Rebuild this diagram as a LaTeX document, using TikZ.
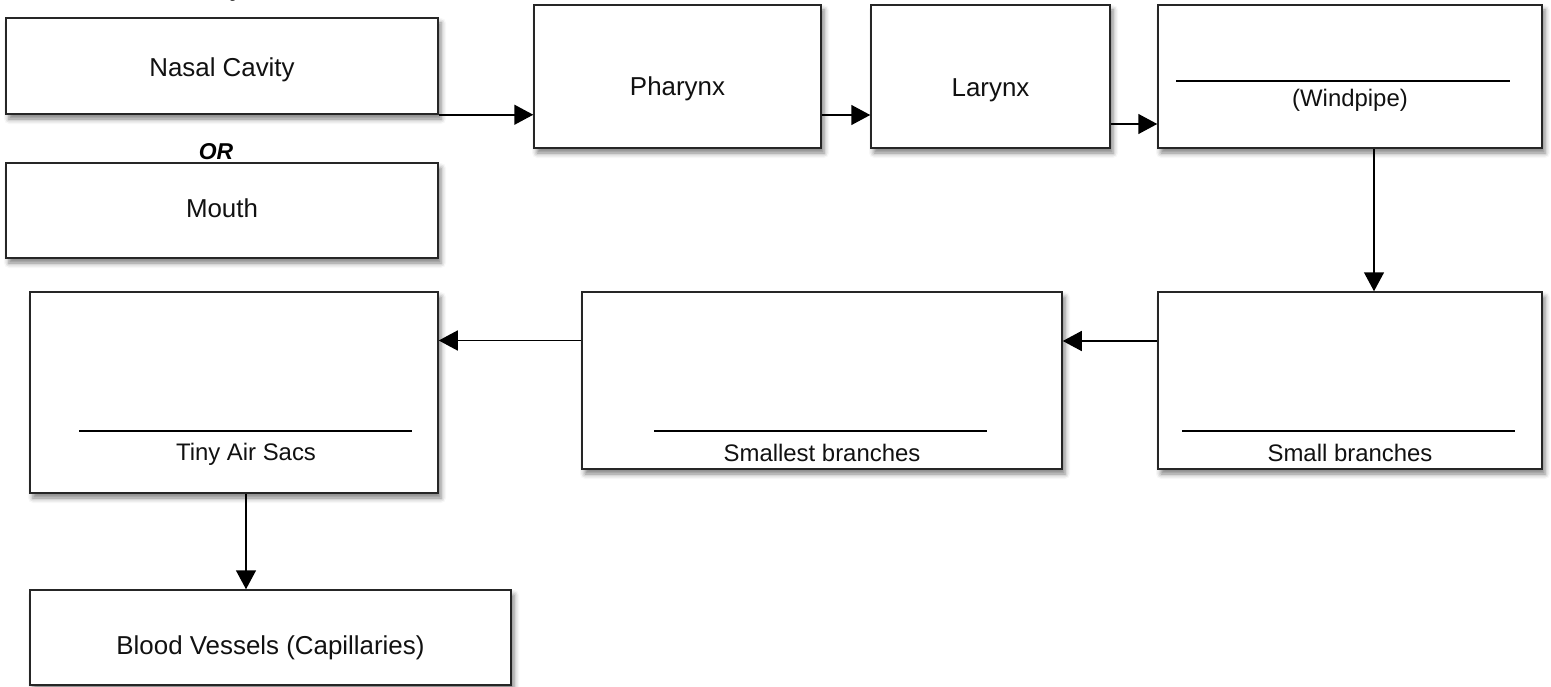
\documentclass[tikz,border=0pt]{standalone}
\usepackage{fontspec}
\setmainfont{Liberation Sans}
\usetikzlibrary{arrows.meta}
\usetikzlibrary{shadows.blur}
\definecolor{boxLineColor}{HTML}{262626}
\definecolor{boxFillColor}{HTML}{FFFFFF}
\definecolor{arrowColor}{HTML}{000000}
\definecolor{blankColor}{HTML}{000000}
\definecolor{textColor}{HTML}{111111}

\tikzset{
  organBox/.style={draw=boxLineColor, line width=1.5bp, fill=boxFillColor, inner sep=0pt,
    blur shadow={shadow xshift=3bp, shadow yshift=-5bp, shadow blur radius=5bp, shadow opacity=50}},
  organText/.style={font=\fontsize{26}{30}\selectfont, text=textColor, inner sep=0pt},
  blankText/.style={font=\fontsize{24}{28}\selectfont, text=textColor, inner sep=0pt},
  orLabel/.style={font=\fontsize{23}{27}\selectfont\bfseries\itshape, inner sep=0pt},
  blankLine/.style={draw=blankColor, line width=1.8bp},
  flow/.style={draw=arrowColor, line width=1.5bp, -{Triangle[length=19bp, width=20bp]}}
}

\begin{document}
\begin{tikzpicture}[x=1bp,y=-1bp]
\useasboundingbox (0, 0) rectangle (1551, 687);

% top row
\node[organBox, minimum width=432bp, minimum height=96bp] (nasal) at (222, 66) {};
\node[organBox, minimum width=432bp, minimum height=95bp] (mouth) at (222, 210.5) {};
\node[organBox, minimum width=287bp, minimum height=143bp] (pharynx) at (677.5, 76.5) {};
\node[organBox, minimum width=239bp, minimum height=143bp] (larynx) at (990.5, 76.5) {};
\node[organBox, minimum width=384bp, minimum height=143bp] (windpipe) at (1350, 76.5) {};

% middle row
\node[organBox, minimum width=384bp, minimum height=177bp] (small) at (1350, 380.5) {};
\node[organBox, minimum width=480bp, minimum height=177bp] (smallest) at (822, 380.5) {};
\node[organBox, minimum width=408bp, minimum height=201bp] (tiny) at (234, 392.5) {};

% bottom row
\node[organBox, minimum width=481bp, minimum height=95bp] (blood) at (270.5, 637.5) {};

% texts
\node[orLabel, anchor=base] (titleText) at (238, -3) {y};
\node[orLabel] (orText) at (216, 152) {OR};
\node[organText] (nasalText) at (222, 70) {Nasal Cavity};
\node[organText] (mouthText) at (222, 208) {Mouth};
\node[organText] (pharynxText) at (677.5, 88.5) {Pharynx};
\node[organText] (larynxText) at (990.5, 90) {Larynx};
\node[blankText] (windpipeText) at (1350, 100.5) {(Windpipe)};
\node[blankText] (smallText) at (1350, 453) {Small branches};
\node[blankText] (smallestText) at (822, 453) {Smallest branches};
\node[blankText] (tinyText) at (246, 454) {Tiny Air Sacs};
\node[organText] (bloodText) at (270.5, 648) {Blood Vessels (Capillaries)};

% blanks
\draw[blankLine] ([shift={(19,-68)}]windpipe.south west) -- ++(334, 0);
\draw[blankLine] ([shift={(25,-39)}]small.south west) -- ++(333, 0);
\draw[blankLine] ([shift={(73,-39)}]smallest.south west) -- ++(333, 0);
\draw[blankLine] ([shift={(50,-63)}]tiny.south west) -- ++(333, 0);

% arrows
\coordinate (pharynxOut) at ([yshift=-38.5bp]pharynx.east);
\coordinate (larynxOut) at ([yshift=-47.5bp]larynx.east);
\coordinate (windpipeOut) at ([xshift=24bp]windpipe.south);
\coordinate (smallOut) at ([yshift=39.5bp]small.west);
\coordinate (smallestOut) at ([yshift=40bp]smallest.west);
\coordinate (tinyOut) at ([xshift=12bp]tiny.south);
\draw[flow] (nasal.south east) -- (nasal.south east -| pharynx.west);
\draw[flow] (pharynxOut) -- (pharynxOut -| larynx.west);
\draw[flow] (larynxOut) -- (larynxOut -| windpipe.west);
\draw[flow] (windpipeOut) -- (windpipeOut |- small.north);
\draw[flow] (smallOut) -- (smallOut -| smallest.east);
\draw[flow] (smallestOut) -- (smallestOut -| tiny.east);
\draw[flow] (tinyOut) -- (tinyOut |- blood.north);
\end{tikzpicture}
\end{document}
